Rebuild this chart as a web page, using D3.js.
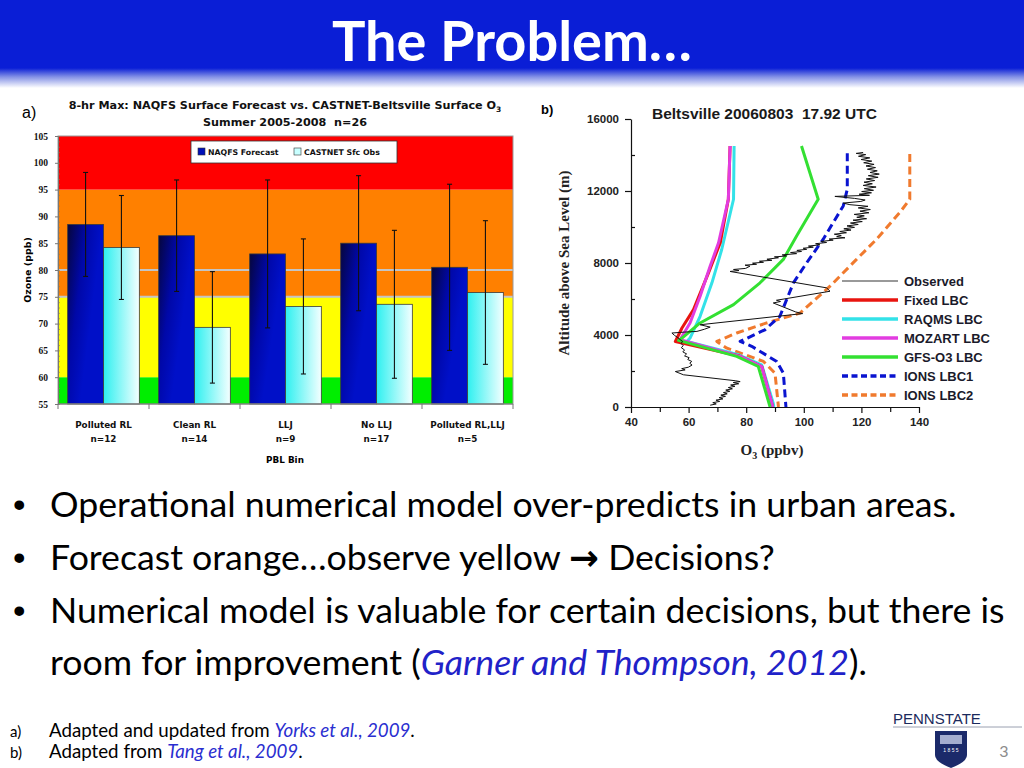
<!DOCTYPE html>
<html>
<head>
<meta charset="utf-8">
<script src="https://cdn.jsdelivr.net/npm/d3@7"></script>
<style>
  body { margin: 0; background: #fff; }
  svg { display: block; }
  text { white-space: pre; }
</style>
</head>
<body>
<svg id="slide" width="1024" height="768"></svg>
<script>
// ---------- data, chart a) : NAQFS vs CASTNET by PBL bin
const categories = ["Polluted RL", "Clean RL", "LLJ", "No LLJ", "Polluted RL,LLJ"];
const sampleSizes = ["n=12", "n=14", "n=9", "n=17", "n=5"];
const seriesNames = ["NAQFS Forecast", "CASTNET Sfc Obs"];
const forecastMean = [88.5, 86.4, 83.0, 85.0, 80.5];
const forecastErr  = [9.7, 10.4, 13.8, 12.6, 15.5];
const obsMean      = [84.2, 69.3, 73.2, 73.6, 75.8];
const obsErr       = [9.7, 10.4, 12.6, 13.8, 13.4];
const bandLimits   = [55, 60, 75, 95, 105];   // AQI colour bands (ppb)
const refLines     = [75, 80];
const ozoneTicks   = [55, 60, 65, 70, 75, 80, 85, 90, 95, 100, 105];

// ---------- data, chart b) : Beltsville profile, [O3 ppbv, altitude m]
const fixedLBC = [[74.4,14500],[73.8,11540],[71.0,9125],[66.9,7450],[61.7,5410],[57.7,4390],[55.4,3640],[77.3,2850],[85.4,2250],[88.9,200],[89.2,0]];
const raqmsLBC = [[75.8,14500],[75.6,11540],[71.5,8750],[68.1,6900],[64.0,5040],[60.5,3830],[59.4,3640],[77.3,2900],[85.4,2340],[89.4,200],[89.6,0]];
const mozartLBC = [[74.4,14500],[73.8,11540],[70.4,9125],[67.5,7830],[64.0,6150],[60.5,4670],[57.7,3920],[57.1,3740],[77.9,2810],[85.4,2250],[88.9,200],[89.2,0]];
const gfsLBC = [[99.2,14500],[105.0,11540],[97.5,9500],[92.9,8200],[84.8,6900],[75.6,5690],[64.0,4670],[57.7,3830],[56.5,3700],[76.7,2810],[84.2,2250],[88.3,0]];
const ionsLBC1 = [[115.1,14100],[115.1,12100],[113.7,11170],[106.7,9310],[101.0,8010],[96.4,6900],[91.7,5040],[86.5,4290],[77.9,3640],[81.9,3370],[90.6,2530],[92.9,1880],[93.8,0]];
const ionsLBC2 = [[136.8,14050],[136.8,11540],[133.3,10800],[125.2,9310],[118.3,8200],[109.1,6710],[98.7,5220],[87.1,4670],[76.7,4110],[69.8,3640],[73.3,3270],[86.0,2530],[90.0,1880],[91.2,0]];
const observed = [
  [67.5,100],[69.6,170],[68.4,240],[70.8,310],[69.5,380],[71.9,450],[70.6,520],[72.8,590],[71.2,660],[73.4,730],
  [72.1,800],[74.3,870],[72.9,940],[75.2,1010],[73.8,1080],[76.1,1150],[74.6,1220],[77.4,1290],[75.5,1360],[77.9,1410],
  [76.2,1460],[58.2,1790],[55.4,1970],[58.8,2060],[57.6,2130],[59.9,2210],[61.2,2330],[60.4,2430],[61.1,2530],[59.7,2640],
  [60.2,2740],[58.6,2840],[59.3,2950],[58.0,3060],[58.6,3170],[57.5,3290],[58.1,3410],[57.4,3530],[57.9,3640],[57.1,3740],
  [56.2,3860],[55.1,3980],[54.2,4110],[58.5,4160],[62.9,4200],[65.5,4320],[67.5,4440],[64.0,4570],[99.6,5190],[97.2,5280],
  [89.4,5780],[91.9,5860],[90.5,5930],[109.1,6430],[107.9,6620],[74.4,7530],[77.5,7580],[75.6,7640],[79.8,7700],[81.3,7825],
  [79.6,7880],[83.6,7930],[82.2,7990],[86.0,8040],[84.6,8100],[88.9,8150],[87.2,8210],[91.2,8290],[89.8,8340],[94.0,8390],
  [92.5,8450],[97.5,8520],[95.4,8580],[99.2,8640],[97.6,8700],[101.0,8760],[99.8,8820],[103.3,8880],[101.6,8940],[105.6,9010],
  [104.1,9070],[107.9,9140],[106.0,9200],[110.2,9270],[108.8,9330],[114.3,9400],[111.4,9460],[113.0,9530],[110.6,9600],[114.8,9680],
  [112.5,9750],[116.4,9830],[113.9,9900],[117.6,9980],[115.0,10060],[118.9,10140],[116.2,10220],[120.3,10300],[117.1,10380],[121.8,10460],
  [118.4,10540],[121.0,10620],[117.5,10700],[122.6,10790],[119.5,10880],[123.1,10970],[118.9,11060],[122.3,11150],[116.0,11240],[113.7,11330],
  [119.8,11420],[121.3,11500],[117.6,11590],[110.8,11700],[122.8,11760],[119.2,11820],[123.5,11900],[120.1,11970],[124.2,12040],[121.0,12130],
  [125.1,12220],[120.6,12310],[123.8,12400],[120.9,12490],[124.6,12580],[121.7,12670],[125.8,12760],[122.4,12850],[126.2,12940],[123.0,13030],
  [125.5,13120],[122.1,13210],[124.9,13300],[121.6,13390],[124.4,13480],[120.8,13570],[123.6,13660],[119.9,13750],[122.9,13840],[119.0,13930],
  [121.5,14020],[118.2,14090],[120.6,14140]
];
const profileNames = ["Observed", "Fixed LBC", "RAQMS LBC", "MOZART LBC", "GFS-O3 LBC", "IONS LBC1", "IONS LBC2"];
const altTicks = [0, 4000, 8000, 12000, 16000];
const altMinor = [2000, 6000, 10000, 14000];
const o3Ticks = [40, 60, 80, 100, 120, 140];
const o3Minor = [50, 70, 90, 110, 130];

// ---------- slide text
const bullets = [
  [{t: "Operational numerical model over-predicts in urban areas."}],
  [{t: "Forecast orange…observe yellow "}, {t: "→", arrow: true}, {t: " Decisions?"}],
  [{t: "Numerical model is valuable for certain decisions, but there is"}],
  [{t: "room for improvement ("}, {t: "Garner and Thompson, 2012", cite: true}, {t: ")."}]
];
const footnotes = [
  ["a)", [{t: "Adapted and updated from "}, {t: "Yorks et al., 2009", cite: true}, {t: "."}]],
  ["b)", [{t: "Adapted from "}, {t: "Tang et al., 2009", cite: true}, {t: "."}]]
];

const svg = d3.select("#slide");
const defs = svg.append("defs");

function fitSize(sel, target, base) {
  sel.style("font-size", base + "px");
  const w = sel.node().getComputedTextLength();
  const s = base * target / w;
  sel.style("font-size", s + "px");
  return s;
}

// ---------- header band
const hg = defs.append("linearGradient").attr("id", "hdrFade").attr("x1", 0).attr("y1", 0).attr("x2", 0).attr("y2", 1);
hg.append("stop").attr("offset", 0).attr("stop-color", "#0a1ed6");
hg.append("stop").attr("offset", 0.45).attr("stop-color", "#8592e6");
hg.append("stop").attr("offset", 1).attr("stop-color", "#ffffff");
svg.append("rect").attr("x", 0).attr("y", 0).attr("width", 1024).attr("height", 69).attr("fill", "#0a1ed6");
svg.append("rect").attr("x", 0).attr("y", 68).attr("width", 1024).attr("height", 20).attr("fill", "url(#hdrFade)");
const title = svg.append("text").attr("x", 512).attr("y", 61).attr("text-anchor", "middle")
  .attr("fill", "#fff").style("font-family", "Lato, 'Open Sans', sans-serif").style("font-weight", "bold")
  .text("The Problem…");
fitSize(title, 360, 54);

// ================= chart a)
const gA = svg.append("g");
const yA = d3.scaleLinear().domain([55, 105]).range([404, 136]);
const xA = d3.scaleBand().domain(categories).range([58, 513]);
const xS = d3.scaleBand().domain(seriesNames).range([0, xA.bandwidth()]).paddingOuter(0.27);
const bandColors = ["#00ee00", "#ffff00", "#ff8000", "#ff0000"];
const comic = "'DejaVu Sans', Verdana, sans-serif";

d3.pairs(bandLimits).forEach(([lo, hi], i) => {
  gA.append("rect").attr("x", xA.range()[0]).attr("width", xA.range()[1] - xA.range()[0])
    .attr("y", yA(hi)).attr("height", yA(lo) - yA(hi)).attr("fill", bandColors[i]);
});
refLines.forEach(v => {
  gA.append("line").attr("x1", xA.range()[0]).attr("x2", xA.range()[1]).attr("y1", yA(v)).attr("y2", yA(v))
    .attr("stroke", "#c4c4c4").attr("stroke-width", 2);
});

const fg = defs.append("linearGradient").attr("id", "fcGrad").attr("x1", 0).attr("y1", 0).attr("x2", 0.7).attr("y2", 0.45);
fg.append("stop").attr("offset", 0).attr("stop-color", "#06063c");
fg.append("stop").attr("offset", 0.55).attr("stop-color", "#0008a8");
fg.append("stop").attr("offset", 1).attr("stop-color", "#0010c8");
const og = defs.append("linearGradient").attr("id", "obGrad").attr("x1", 0).attr("y1", 0).attr("x2", 1).attr("y2", 0);
og.append("stop").attr("offset", 0).attr("stop-color", "#2ef0f0");
og.append("stop").attr("offset", 1).attr("stop-color", "#f4ffff");
const barFill = ["url(#fcGrad)", "url(#obGrad)"];

const barRows = categories.map((c, i) => [
  {cat: c, s: seriesNames[0], v: forecastMean[i], e: forecastErr[i]},
  {cat: c, s: seriesNames[1], v: obsMean[i], e: obsErr[i]}
]).flat();

gA.selectAll("rect.bar").data(barRows).join("rect").attr("class", "bar")
  .attr("x", d => xA(d.cat) + xS(d.s)).attr("width", xS.bandwidth())
  .attr("y", d => yA(d.v)).attr("height", d => yA(55) - yA(d.v))
  .attr("fill", d => barFill[seriesNames.indexOf(d.s)])
  .attr("stroke", "#3a3a3a").attr("stroke-width", 0.8);

const eb = gA.selectAll("g.err").data(barRows).join("g").attr("class", "err")
  .attr("stroke", "#111").attr("stroke-width", 1.1);
eb.append("line").attr("x1", d => xA(d.cat) + xS(d.s) + xS.bandwidth() / 2).attr("x2", d => xA(d.cat) + xS(d.s) + xS.bandwidth() / 2)
  .attr("y1", d => yA(d.v + d.e)).attr("y2", d => yA(d.v - d.e));
[1, -1].forEach(sg => {
  eb.append("line").attr("x1", d => xA(d.cat) + xS(d.s) + xS.bandwidth() / 2 - 2.5)
    .attr("x2", d => xA(d.cat) + xS(d.s) + xS.bandwidth() / 2 + 2.5)
    .attr("y1", d => yA(d.v + sg * d.e)).attr("y2", d => yA(d.v + sg * d.e));
});

gA.append("rect").attr("x", 58).attr("y", 136).attr("width", 455).attr("height", 268)
  .attr("fill", "none").attr("stroke", "#9a9a9a").attr("stroke-width", 1);

// y axis
const yAxA = gA.append("g").attr("transform", "translate(58,0)")
  .call(d3.axisLeft(yA).tickValues(ozoneTicks).tickSize(3).tickSizeOuter(0).tickPadding(7));
yAxA.selectAll("text").style("font-family", "'Liberation Serif', serif").style("font-weight", "bold").style("font-size", "9.5px").attr("fill", "#111");
yAxA.select(".domain").attr("stroke", "#777");
yAxA.selectAll(".tick line").attr("stroke", "#777");
gA.append("g").attr("transform", "translate(58,0)")
  .call(d3.axisRight(yA).ticks(50).tickSize(2).tickFormat(""))
  .call(g => g.select(".domain").remove())
  .selectAll("line").attr("stroke", "#8a7a60").attr("stroke-width", 0.6);

// x axis
gA.append("line").attr("x1", 58).attr("x2", 513).attr("y1", 404).attr("y2", 404).attr("stroke", "#777");
gA.selectAll("line.xt").data(categories.concat(["end"])).join("line").attr("class", "xt")
  .attr("x1", (d, i) => i < categories.length ? xA(d) : xA.range()[1])
  .attr("x2", (d, i) => i < categories.length ? xA(d) : xA.range()[1])
  .attr("y1", 404).attr("y2", 409).attr("stroke", "#777");
const catLab = gA.selectAll("g.cl").data(categories).join("g").attr("class", "cl")
  .attr("transform", d => `translate(${xA(d) + xA.bandwidth() / 2},0)`)
  .style("font-family", comic).style("font-weight", "bold").style("font-size", "8.8px").attr("fill", "#111")
  .attr("text-anchor", "middle");
catLab.append("text").attr("y", 428).text(d => d);
catLab.append("text").attr("y", 442).text((d, i) => sampleSizes[i]);
gA.append("text").attr("x", 285).attr("y", 463).attr("text-anchor", "middle")
  .style("font-family", comic).style("font-weight", "bold").style("font-size", "8.8px").text("PBL Bin");
gA.append("text").attr("transform", "translate(31,270) rotate(-90)").attr("text-anchor", "middle")
  .style("font-family", comic).style("font-weight", "bold").style("font-size", "9.5px").text("Ozone (ppb)");

// titles
const tA = gA.append("text").attr("x", 285).attr("y", 109).attr("text-anchor", "middle")
  .style("font-family", comic).style("font-weight", "bold").style("font-size", "11.2px").attr("fill", "#111");
tA.append("tspan").text("8-hr Max: NAQFS Surface Forecast vs. CASTNET-Beltsville Surface O");
tA.append("tspan").attr("dy", 3).style("font-size", "7.5px").text("3");
gA.append("text").attr("x", 285).attr("y", 126).attr("text-anchor", "middle")
  .style("font-family", comic).style("font-weight", "bold").style("font-size", "11.2px").attr("fill", "#111")
  .text("Summer 2005-2008  n=26");
gA.append("text").attr("x", 22).attr("y", 118).style("font-family", "'Liberation Sans', Arial, sans-serif")
  .style("font-size", "16px").text("a)");

// legend
const lgA = gA.append("g");
lgA.append("rect").attr("x", 191).attr("y", 141).attr("width", 206).attr("height", 22)
  .attr("fill", "#fff").attr("stroke", "#333").attr("stroke-width", 0.8);
const legX = [198, 294];
seriesNames.forEach((s, i) => {
  lgA.append("rect").attr("x", legX[i]).attr("y", 148).attr("width", 7).attr("height", 7)
    .attr("fill", i === 0 ? "#0010b8" : "#c8ffff").attr("stroke", "#333").attr("stroke-width", 0.6);
  lgA.append("text").attr("x", legX[i] + 10).attr("y", 155).style("font-family", comic)
    .style("font-weight", "bold").style("font-size", "7.8px").attr("fill", "#111").text(s);
});

// ================= chart b)
const gB = svg.append("g");
const xB = d3.scaleLinear().domain([40, 140]).range([631, 919]);
const yB = d3.scaleLinear().domain([0, 16000]).range([407, 119]);
const arial = "'Liberation Sans', Arial, Helvetica, sans-serif";
const profile = d3.line().x(d => xB(d[0])).y(d => yB(d[1]));

const profiles = [
  {name: "IONS LBC2", data: ionsLBC2, color: "#f07a2e", w: 3, dash: "8,4.5"},
  {name: "IONS LBC1", data: ionsLBC1, color: "#0a14d0", w: 3, dash: "8,4.5"},
  {name: "RAQMS LBC", data: raqmsLBC, color: "#33e2e8", w: 3, dash: null},
  {name: "Fixed LBC", data: fixedLBC, color: "#e8140f", w: 3, dash: null},
  {name: "MOZART LBC", data: mozartLBC, color: "#e23ce0", w: 3, dash: null},
  {name: "GFS-O3 LBC", data: gfsLBC, color: "#33e032", w: 3, dash: null},
  {name: "Observed", data: observed, color: "#111", w: 1, dash: null}
];
gB.selectAll("path.prof").data(profiles).join("path").attr("class", "prof")
  .attr("d", d => profile(d.data)).attr("fill", "none")
  .attr("stroke", d => d.color).attr("stroke-width", d => d.w)
  .attr("stroke-dasharray", d => d.dash).attr("stroke-linejoin", "round");

// axes
const yAxB = gB.append("g").attr("transform", `translate(${xB(40)},0)`)
  .call(d3.axisLeft(yB).tickValues(altTicks).tickFormat(d3.format("d")).tickSize(6).tickSizeOuter(0).tickPadding(6));
gB.append("g").attr("transform", `translate(${xB(40)},0)`)
  .call(d3.axisRight(yB).tickValues(altMinor).tickSize(4).tickFormat(""))
  .call(g => g.select(".domain").remove());
const xAxB = gB.append("g").attr("transform", `translate(0,${yB(0)})`)
  .call(d3.axisBottom(xB).tickValues(o3Ticks).tickSize(6).tickSizeOuter(0).tickPadding(5));
gB.append("g").attr("transform", `translate(0,${yB(0)})`)
  .call(d3.axisBottom(xB).tickValues(o3Minor).tickSize(5).tickFormat(""))
  .call(g => g.select(".domain").remove());
[yAxB, xAxB].forEach(a => a.selectAll("text").style("font-family", arial).style("font-weight", "bold")
  .style("font-size", "11.5px").attr("fill", "#222"));
gB.selectAll(".domain, .tick line").attr("stroke", "#111").attr("stroke-width", 1.2);

gB.append("text").attr("transform", "translate(569,263) rotate(-90)").attr("text-anchor", "middle")
  .style("font-family", "'Liberation Serif', serif").style("font-weight", "bold").style("font-size", "15px")
  .attr("fill", "#222").text("Altitude above Sea Level (m)");
const xlB = gB.append("text").attr("x", 772).attr("y", 455).attr("text-anchor", "middle")
  .style("font-family", "'Liberation Serif', serif").style("font-weight", "bold").style("font-size", "15px").attr("fill", "#222");
xlB.append("tspan").text("O");
xlB.append("tspan").attr("dy", 4).style("font-size", "10px").text("3");
xlB.append("tspan").attr("dy", -4).text(" (ppbv)");
gB.append("text").attr("x", 652).attr("y", 119).style("font-family", arial).style("font-weight", "bold")
  .style("font-size", "15.5px").attr("fill", "#1a1a1a").text("Beltsville 20060803  17.92 UTC");
gB.append("text").attr("x", 541).attr("y", 114).style("font-family", arial).style("font-weight", "bold")
  .style("font-size", "13px").text("b)");

// legend
const lgB = gB.selectAll("g.lg").data(profileNames).join("g").attr("class", "lg")
  .attr("transform", (d, i) => `translate(842,${281 + i * 19})`);
lgB.append("line").attr("x1", 0).attr("x2", 56).attr("y1", 0).attr("y2", 0)
  .attr("stroke", d => d === "Observed" ? "#777" : profiles.find(p => p.name === d).color)
  .attr("stroke-width", d => d === "Observed" ? 1.5 : 3.5)
  .attr("stroke-dasharray", d => d.startsWith("IONS") ? "6,3.5" : null);
lgB.append("text").attr("x", 62).attr("y", 5).style("font-family", arial).style("font-weight", "bold")
  .style("font-size", "13px").attr("fill", "#1a1a2a").text(d => d);

// ================= bullets
const bodyFont = "Lato, 'Open Sans', sans-serif";
const bulletY = [517, 570, 623, 675];
const bulletTexts = bullets.map((parts, i) => {
  const t = svg.append("text").attr("x", 50).attr("y", bulletY[i]).style("font-family", bodyFont).attr("fill", "#000");
  parts.forEach(p => {
    const ts = t.append("tspan").text(p.t);
    if (p.cite) ts.style("font-style", "italic").attr("fill", "#1f22c8");
    if (p.arrow) ts.style("font-weight", "bold").style("font-family", "'DejaVu Sans', sans-serif");
  });
  return t;
});
const bodySize = fitSize(bulletTexts[2], 955, 28);
bulletTexts.forEach(t => t.style("font-size", bodySize + "px"));
[0, 1, 2].forEach(i => svg.append("text").attr("x", 13).attr("y", bulletY[i]).style("font-family", "Arial, sans-serif")
  .style("font-size", bodySize + "px").text("•"));

// ================= footnotes
const footY = [737, 758];
const footTexts = footnotes.map(([lab, parts], i) => {
  svg.append("text").attr("x", 10).attr("y", footY[i]).style("font-family", bodyFont).style("font-size", "15px").text(lab);
  const t = svg.append("text").attr("x", 49).attr("y", footY[i]).style("font-family", bodyFont);
  parts.forEach(p => {
    const ts = t.append("tspan").text(p.t);
    if (p.cite) ts.style("font-style", "italic").attr("fill", "#2a2ed0");
  });
  return t;
});
const footSize = fitSize(footTexts[0], 366, 15);
footTexts.forEach(t => t.style("font-size", footSize + "px"));

// ================= Penn State mark + slide number
const psu = svg.append("text").attr("x", 893).attr("y", 724).style("font-family", "'Liberation Sans Narrow', 'Liberation Sans', sans-serif")
  .attr("fill", "#1b2a5c").text("PENNSTATE");
fitSize(psu, 88, 15);
svg.append("line").attr("x1", 893).attr("x2", 1022).attr("y1", 727).attr("y2", 727).attr("stroke", "#9aa0b0").attr("stroke-width", 1);
svg.append("path").attr("d", "M935,731 H967 V755 Q967,762 951,768 Q935,762 935,755 Z").attr("fill", "#1b2a6a");
svg.append("rect").attr("x", 940).attr("y", 735).attr("width", 22).attr("height", 9).attr("fill", "#c8d0e8").attr("opacity", 0.8);
svg.append("text").attr("x", 951).attr("y", 752).attr("text-anchor", "middle").style("font-family", "'Liberation Sans', sans-serif")
  .style("font-size", "5px").attr("fill", "#fff").text("1 8 5 5");
svg.append("text").attr("x", 1004).attr("y", 757).attr("text-anchor", "middle").style("font-family", bodyFont)
  .style("font-size", "16px").attr("fill", "#8c8c8c").text("3");
</script>
</body>
</html>
